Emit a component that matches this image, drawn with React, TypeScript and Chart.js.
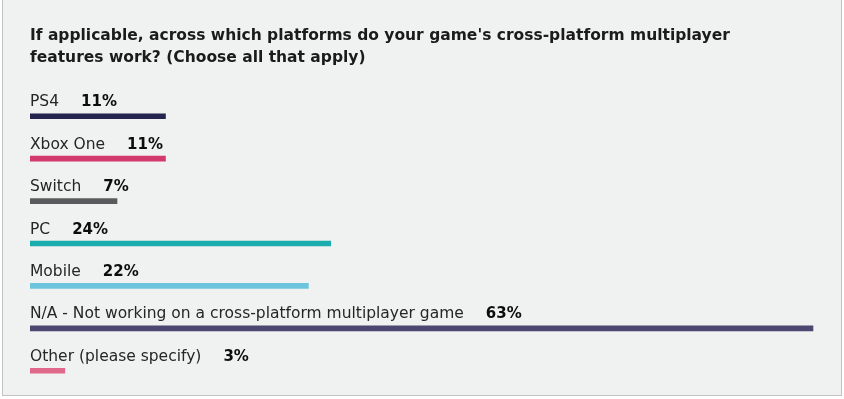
import React, { useEffect, useRef } from "react";
import { Chart, registerables } from "chart.js";

Chart.register(...registerables);

const titleLines = [
  "If applicable, across which platforms do your game's cross-platform multiplayer",
  "features work? (Choose all that apply)",
];
const categories = [
  "PS4",
  "Xbox One",
  "Switch",
  "PC",
  "Mobile",
  "N/A - Not working on a cross-platform multiplayer game",
  "Other (please specify)",
];
const values = [10.9, 10.9, 7, 24.2, 22.4, 63, 2.8];
const valueLabels = ["11%", "11%", "7%", "24%", "22%", "63%", "3%"];
const colors = ["#25244f", "#d23a6e", "#5a5b5d", "#1badad", "#6cc5dd", "#4b4770", "#e0688a"];

const LABEL_FONT = "15.5px 'DejaVu Sans'";
const VALUE_FONT = "bold 15px 'DejaVu Sans'";
const TITLE_FONT = "bold 15.5px 'DejaVu Sans'";

const textPlugin = {
  id: "textPlugin",
  afterDatasetsDraw(chart: any) {
    const ctx = chart.ctx;
    const left = chart.chartArea.left;
    ctx.save();
    ctx.textBaseline = "alphabetic";
    ctx.textAlign = "left";
    ctx.fillStyle = "#1b1b1b";
    ctx.font = TITLE_FONT;
    titleLines.forEach((t, i) => ctx.fillText(t, left, 39.5 + i * 22.5));
    const meta = chart.getDatasetMeta(0);
    meta.data.forEach((bar: any, i: number) => {
      const y = bar.y - 10;
      ctx.font = LABEL_FONT;
      ctx.fillStyle = "#262626";
      ctx.fillText(categories[i], left, y);
      const w = ctx.measureText(categories[i]).width;
      ctx.font = VALUE_FONT;
      ctx.fillStyle = "#0d0d0d";
      ctx.fillText(valueLabels[i], left + w + 22, y);
    });
    ctx.restore();
  },
};

export default function App() {
  const ref = useRef<HTMLCanvasElement>(null);
  useEffect(() => {
    if (!ref.current) return;
    const chart = new Chart(ref.current, {
      type: "bar",
      data: {
        labels: categories,
        datasets: [
          {
            data: values,
            backgroundColor: colors,
            barThickness: 5,
            borderWidth: 0,
          },
        ],
      },
      options: {
        indexAxis: "y",
        animation: false,
        responsive: false,
        maintainAspectRatio: false,
        layout: { padding: { left: 30, top: 95, bottom: 7, right: 18.6 } },
        scales: {
          x: { display: false, min: 0, max: 64 },
          y: { display: false },
        },
        plugins: {
          legend: { display: false },
          tooltip: { enabled: false },
          title: { display: false },
        },
      },
      plugins: [textPlugin],
    });
    return () => chart.destroy();
  }, []);
  return (
    <div style={{ position: "fixed", left: 0, top: 0, width: 844, height: 399, background: "#ffffff" }}>
      <div
        style={{
          position: "absolute",
          left: 2,
          top: -2,
          width: 840,
          height: 398,
          background: "#f0f1f1",
          border: "1px solid #c2c2c2",
          boxSizing: "border-box",
        }}
      />
      <canvas ref={ref} width={844} height={399} style={{ position: "absolute", left: 0, top: 0 }} />
    </div>
  );
}
